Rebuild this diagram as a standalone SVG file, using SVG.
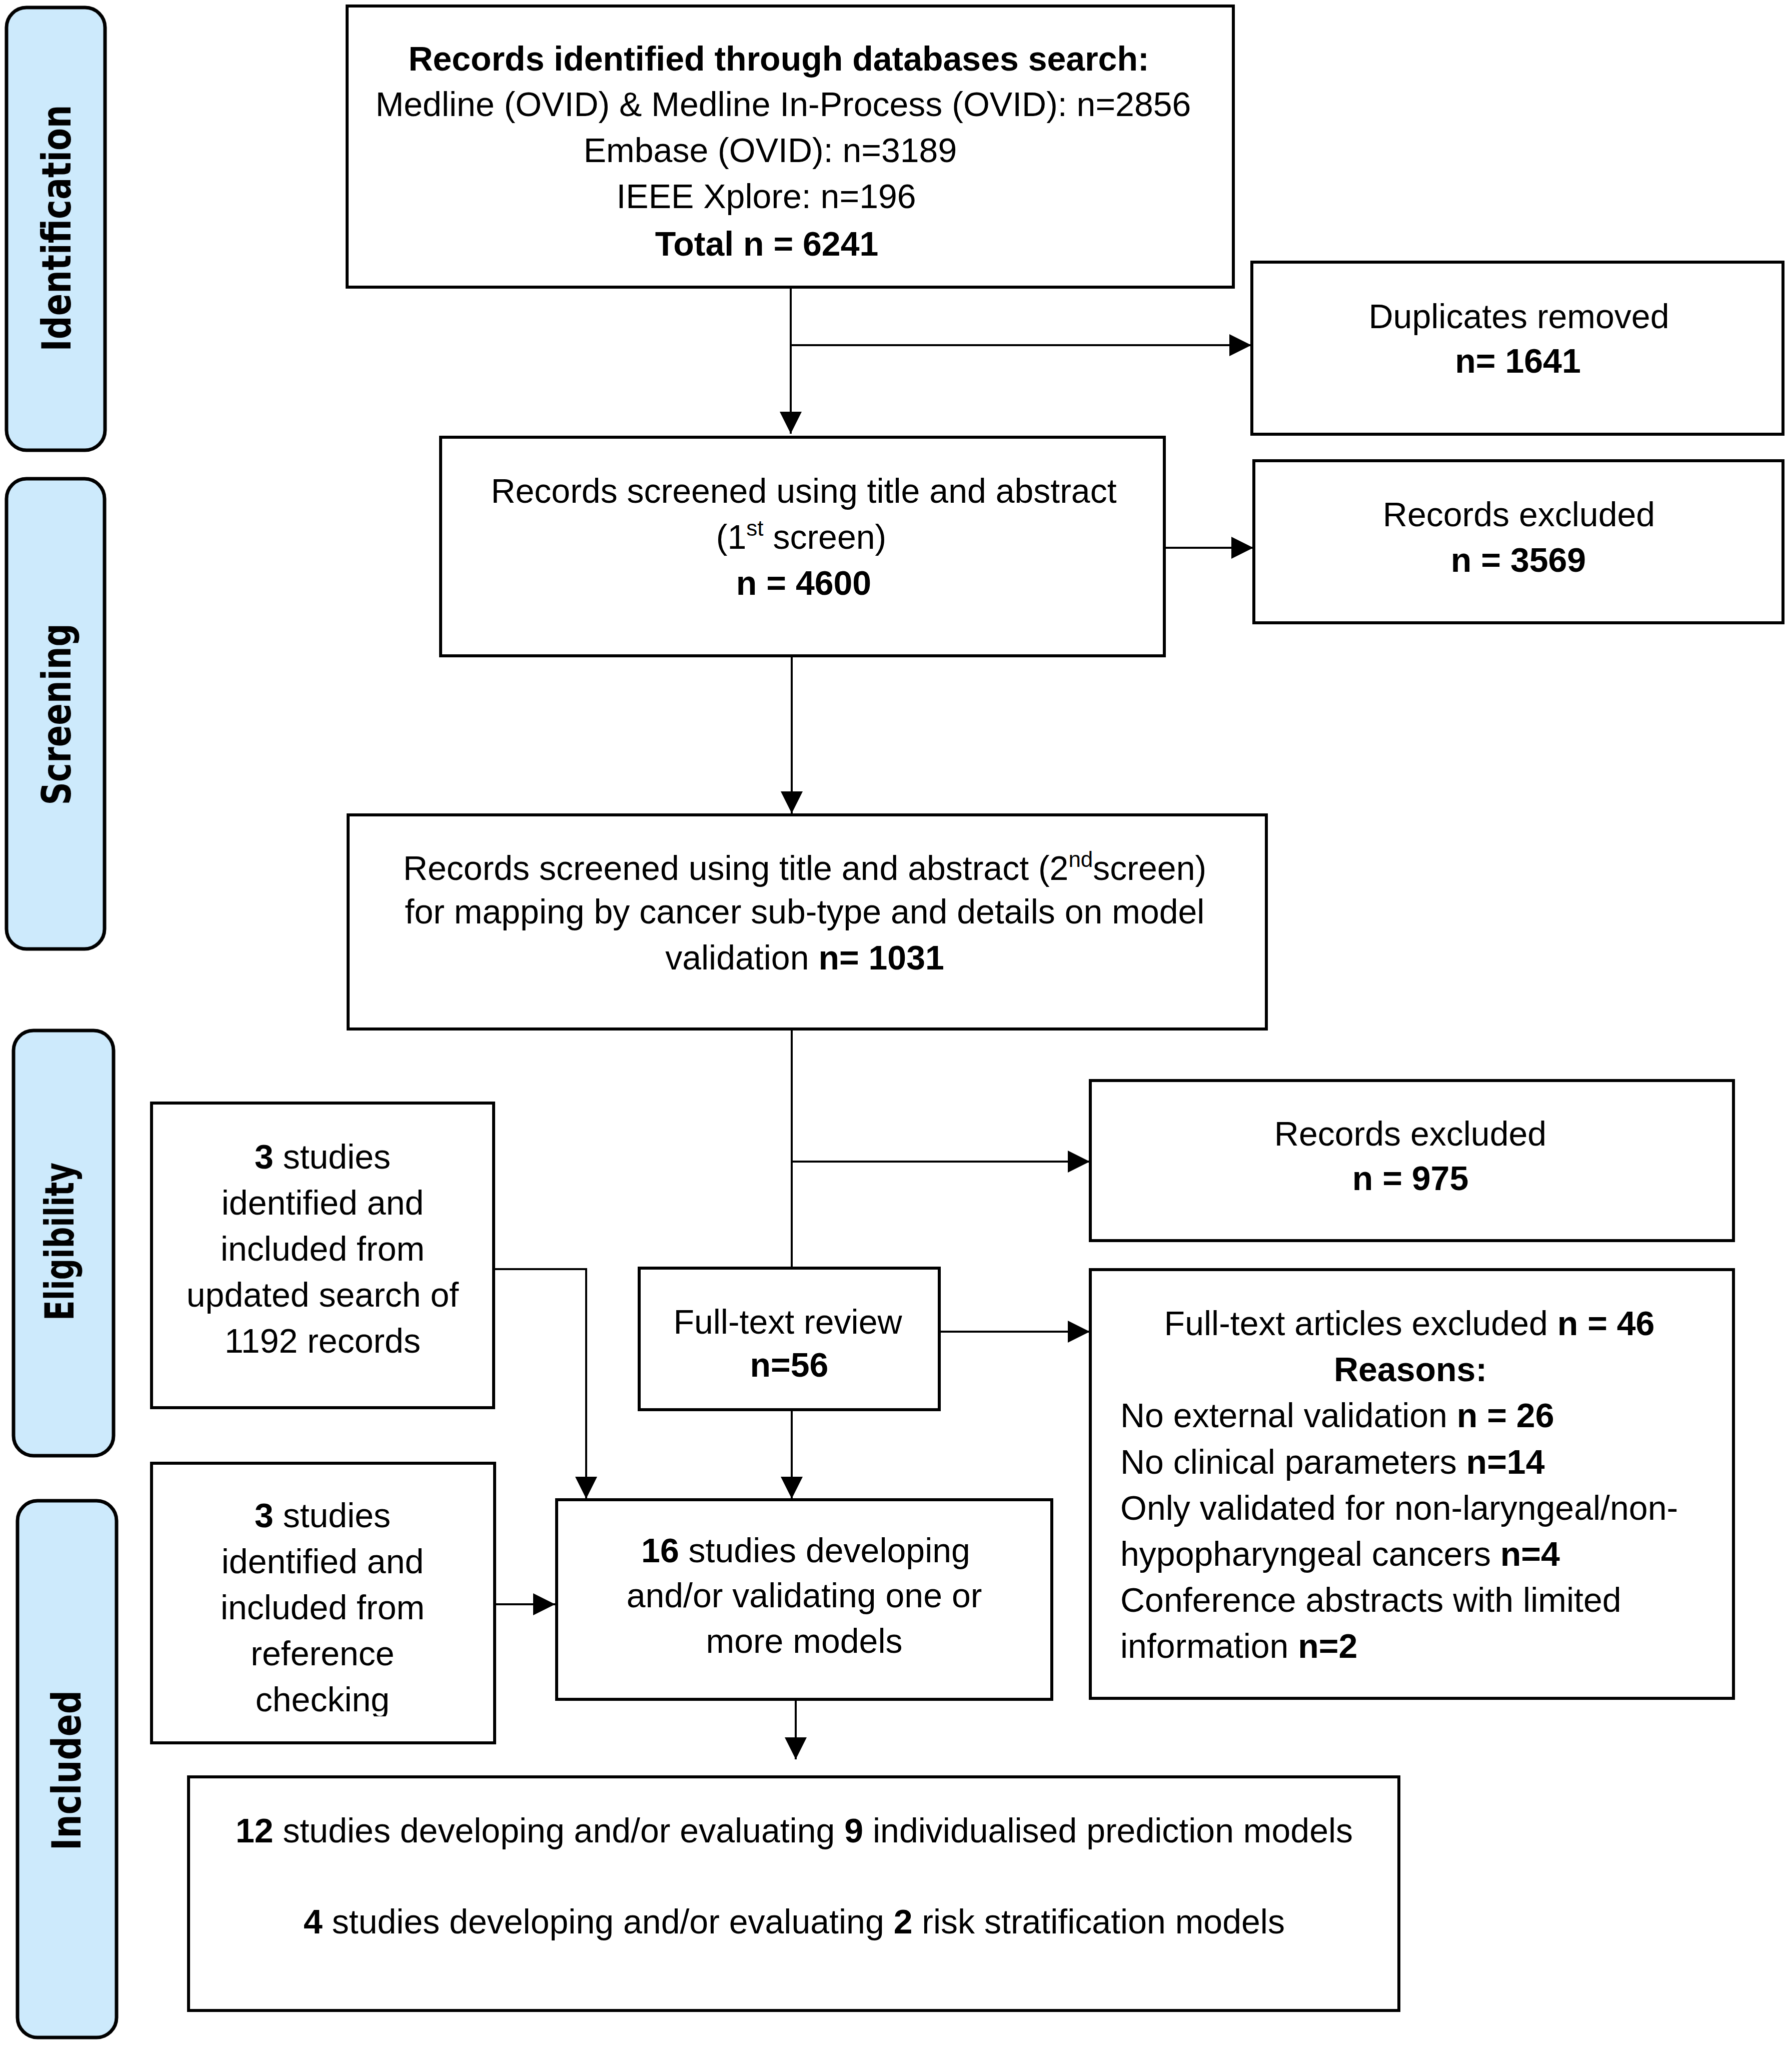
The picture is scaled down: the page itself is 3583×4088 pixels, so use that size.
<svg xmlns="http://www.w3.org/2000/svg" width="3583" height="4088" viewBox="0 0 3583 4088">
<style>
.box{fill:#fff;stroke:#000;stroke-width:6}
.bar{fill:#cdeafc;stroke:#000;stroke-width:7}
.t{font-family:"Liberation Sans",Arial,sans-serif;font-size:68px;fill:#000}
.c{text-anchor:middle}
.b{font-weight:bold}
.lbl{font-family:"DejaVu Sans",Verdana,sans-serif;font-weight:bold;font-size:80px;fill:#000;text-anchor:middle}
.ln{fill:none;stroke:#000;stroke-width:4}
.arr{marker-end:url(#ah)}
</style>
<defs>
<marker id="ah" markerUnits="userSpaceOnUse" markerWidth="44" markerHeight="44" refX="44" refY="22" orient="auto"><path d="M0,0 L44,22 L0,44 z" fill="#000"/></marker>
<clipPath id="clipRef"><rect x="303" y="2925" width="686" height="506"/></clipPath>
</defs>
<rect x="0" y="0" width="3583" height="4088" fill="#fff"/>

<g id="stage-identification">
<rect class="bar" x="13" y="15" width="197" height="885" rx="40" ry="40"/>
<text class="lbl" transform="translate(141,456) rotate(-90)" textLength="493" lengthAdjust="spacingAndGlyphs">Identification</text>
</g>
<g id="stage-screening">
<rect class="bar" x="13" y="957" width="196" height="940" rx="40" ry="40"/>
<text class="lbl" transform="translate(141,1428) rotate(-90)" textLength="363" lengthAdjust="spacingAndGlyphs">Screening</text>
</g>
<g id="stage-eligibility">
<rect class="bar" x="27" y="2060" width="200" height="850" rx="40" ry="40"/>
<text class="lbl" transform="translate(147,2482) rotate(-90)" textLength="316" lengthAdjust="spacingAndGlyphs">Eligibility</text>
</g>
<g id="stage-included">
<rect class="bar" x="35" y="3000" width="198" height="1073" rx="40" ry="40"/>
<text class="lbl" transform="translate(161,3539) rotate(-90)" textLength="320" lengthAdjust="spacingAndGlyphs">Included</text>
</g>

<g id="connectors">
<path class="ln arr" d="M1581,574 V867"/>
<path class="ln arr" d="M1581,690 H2502"/>
<path class="ln arr" d="M2328,1095 H2506"/>
<path class="ln arr" d="M1583,1311 V1626"/>
<path class="ln" d="M1583,2057 V2535"/>
<path class="ln arr" d="M1583,2322 H2179"/>
<path class="ln arr" d="M1878,2662 H2179"/>
<path class="ln arr" d="M1583,2818 V2996"/>
<path class="ln arr" d="M987,2537 H1172 V2996"/>
<path class="ln arr" d="M989,3207 H1110"/>
<path class="ln arr" d="M1591,3397 V3517"/>
</g>

<g id="n-records-identified">
<rect class="box" x="694" y="12" width="1772" height="562"/>
<text class="t c b" x="1557" y="141">Records identified through databases search:</text>
<text class="t c" x="1566" y="232">Medline (OVID) &amp; Medline In-Process (OVID): n=2856</text>
<text class="t c" x="1540" y="324">Embase (OVID): n=3189</text>
<text class="t c" x="1532" y="416">IEEE Xplore: n=196</text>
<text class="t c b" x="1533" y="511">Total n = 6241</text>
</g>

<g id="n-duplicates">
<rect class="box" x="2503" y="524" width="1062" height="344"/>
<text class="t c" x="3037" y="656">Duplicates removed</text>
<text class="t c b" x="3035" y="745">n= 1641</text>
</g>

<g id="n-screen1">
<rect class="box" x="881" y="874" width="1447" height="437"/>
<text class="t c" x="1607" y="1005">Records screened using title and abstract</text>
<text class="t c" x="1602" y="1097">(1<tspan font-size="44" dy="-26">st</tspan><tspan dy="26"> screen)</tspan></text>
<text class="t c b" x="1607" y="1189">n = 4600</text>
</g>

<g id="n-excluded1">
<rect class="box" x="2507" y="921" width="1058" height="324"/>
<text class="t c" x="3037" y="1052">Records excluded</text>
<text class="t c b" x="3036" y="1143">n = 3569</text>
</g>

<g id="n-screen2">
<rect class="box" x="696" y="1629" width="1836" height="428"/>
<text class="t c" x="1609" y="1759">Records screened using title and abstract (2<tspan font-size="44" dy="-26">nd</tspan><tspan dy="26">screen)</tspan></text>
<text class="t c" x="1609" y="1846">for mapping by cancer sub-type and details on model</text>
<text class="t c" x="1609" y="1938">validation <tspan class="b">n= 1031</tspan></text>
</g>

<g id="n-excluded2">
<rect class="box" x="2180" y="2160" width="1286" height="320"/>
<text class="t c" x="2820" y="2290">Records excluded</text>
<text class="t c b" x="2820" y="2379">n = 975</text>
</g>

<g id="n-updated-search">
<rect class="box" x="303" y="2205" width="684" height="609"/>
<text class="t c" x="645" y="2336"><tspan class="b">3</tspan> studies</text>
<text class="t c" x="645" y="2428">identified and</text>
<text class="t c" x="645" y="2520">included from</text>
<text class="t c" x="645" y="2612">updated search of</text>
<text class="t c" x="645" y="2704">1192 records</text>
</g>

<g id="n-fulltext">
<rect class="box" x="1278" y="2535" width="600" height="283"/>
<text class="t c" x="1575" y="2666">Full-text review</text>
<text class="t c b" x="1578" y="2752">n=56</text>
</g>

<g id="n-fulltext-excluded">
<rect class="box" x="2180" y="2538" width="1286" height="857"/>
<text class="t c" x="2818" y="2669">Full-text articles excluded <tspan class="b">n = 46</tspan></text>
<text class="t c b" x="2820" y="2761">Reasons:</text>
<text class="t" x="2240" y="2853">No external validation <tspan class="b">n = 26</tspan></text>
<text class="t" x="2240" y="2946">No clinical parameters <tspan class="b">n=14</tspan></text>
<text class="t" x="2240" y="3038">Only validated for non-laryngeal/non-</text>
<text class="t" x="2240" y="3130">hypopharyngeal cancers <tspan class="b">n=4</tspan></text>
<text class="t" x="2240" y="3222">Conference abstracts with limited</text>
<text class="t" x="2240" y="3314">information <tspan class="b">n=2</tspan></text>
</g>

<g id="n-reference-checking">
<rect class="box" x="303" y="2925" width="686" height="559"/>
<g clip-path="url(#clipRef)">
<text class="t c" x="645" y="3053"><tspan class="b">3</tspan> studies</text>
<text class="t c" x="645" y="3145">identified and</text>
<text class="t c" x="645" y="3237">included from</text>
<text class="t c" x="645" y="3329">reference</text>
<text class="t c" x="645" y="3421">checking</text>
</g>
</g>

<g id="n-16-studies">
<rect class="box" x="1113" y="2998" width="990" height="399"/>
<text class="t c" x="1611" y="3123"><tspan class="b">16</tspan> studies developing</text>
<text class="t c" x="1608" y="3213">and/or validating one or</text>
<text class="t c" x="1608" y="3304">more models</text>
</g>

<g id="n-final">
<rect class="box" x="377" y="3552" width="2420" height="467"/>
<text class="t c" x="1588" y="3683"><tspan class="b">12</tspan> studies developing and/or evaluating <tspan class="b">9</tspan> individualised prediction models</text>
<text class="t c" x="1588" y="3865"><tspan class="b">4</tspan> studies developing and/or evaluating <tspan class="b">2</tspan> risk stratification models</text>
</g>
</svg>
